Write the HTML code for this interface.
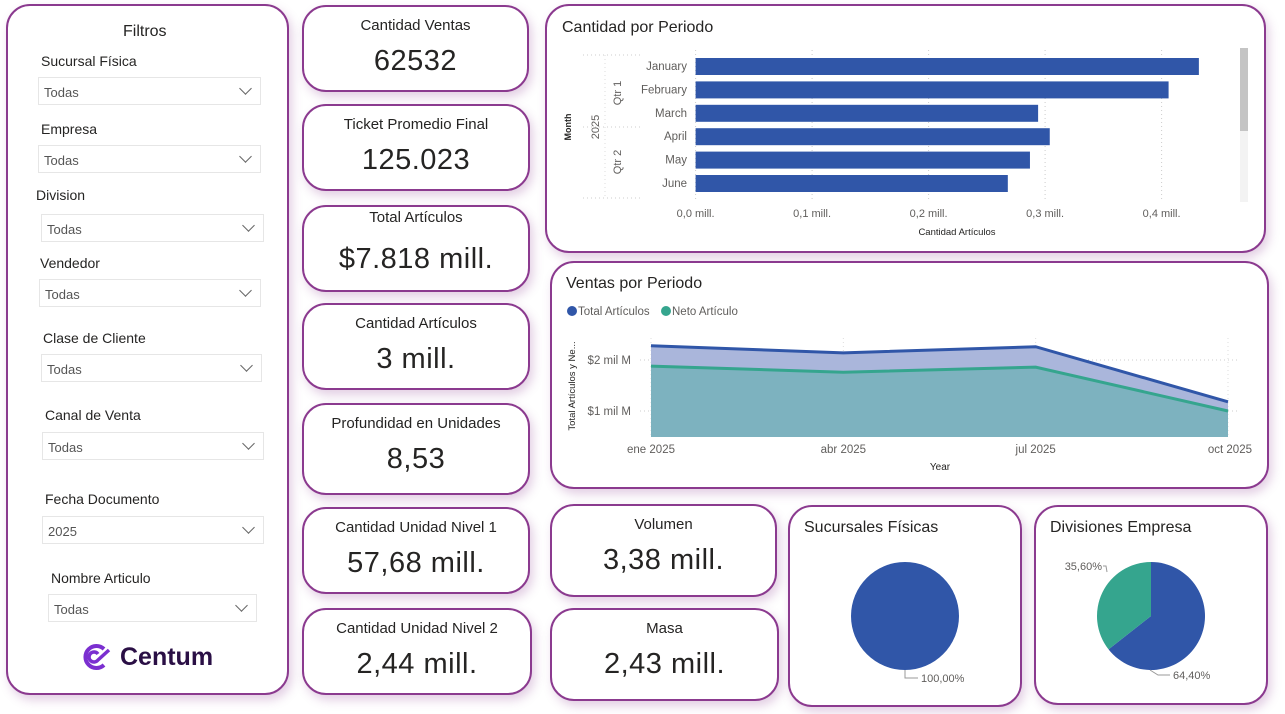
<!DOCTYPE html>
<html><head><meta charset="utf-8"><style>
body{margin:0;width:1285px;height:714px;background:#fff;font-family:"Liberation Sans",sans-serif;color:#252423;position:relative;overflow:hidden}
.card{position:absolute;box-sizing:border-box;border:2.5px solid #8b3a8f;border-radius:24px;background:#fff;box-shadow:3px 5px 10px rgba(139,58,143,0.25)}
.kpi .t{position:absolute;left:0;right:0;top:10px;text-align:center;font-size:15px;color:#252423}
.kpi .v{position:absolute;left:0;right:0;top:38px;text-align:center;font-size:29px;color:#252423;letter-spacing:0.5px}
.lbl{position:absolute;font-size:14px;color:#252423}
.dd{position:absolute;box-sizing:border-box;border:1px solid #e6e6e6;height:28px;font-size:13px;color:#555;padding:7px 0 0 5px}
.dd::after{content:"";position:absolute;right:10px;top:6px;width:8px;height:8px;border-right:1.3px solid #666;border-bottom:1.3px solid #666;transform:rotate(45deg)}
.title{position:absolute;font-size:16px;color:#252423}
</style></head><body>

<div class="card" style="left:6px;top:4px;width:283px;height:691px">
 <div class="title" style="left:115px;top:17px">Filtros</div>
</div>
<div class="lbl" style="left:41px;top:53px">Sucursal Física</div>
<div class="dd" style="left:38px;top:77px;width:223px">Todas</div>
<div class="lbl" style="left:41px;top:121px">Empresa</div>
<div class="dd" style="left:38px;top:145px;width:223px">Todas</div>
<div class="lbl" style="left:36px;top:187px">Division</div>
<div class="dd" style="left:41px;top:214px;width:223px">Todas</div>
<div class="lbl" style="left:40px;top:255px">Vendedor</div>
<div class="dd" style="left:39px;top:279px;width:222px">Todas</div>
<div class="lbl" style="left:43px;top:330px">Clase de Cliente</div>
<div class="dd" style="left:41px;top:354px;width:221px">Todas</div>
<div class="lbl" style="left:45px;top:407px">Canal de Venta</div>
<div class="dd" style="left:42px;top:432px;width:222px">Todas</div>
<div class="lbl" style="left:45px;top:491px">Fecha Documento</div>
<div class="dd" style="left:42px;top:516px;width:222px">2025</div>
<div class="lbl" style="left:51px;top:570px">Nombre Articulo</div>
<div class="dd" style="left:48px;top:594px;width:209px">Todas</div>
<div style="position:absolute;left:80px;top:641px;height:32px;display:flex;align-items:center">
 <svg width="34" height="30" viewBox="0 0 34 30"><path d="M24 7 A11 11 0 1 0 24 23" fill="none" stroke="#7b2fd0" stroke-width="4"/><path d="M18 12 A5 5 0 1 0 18 18 L29 8" fill="none" stroke="#7b2fd0" stroke-width="3.5"/></svg>
 <span style="font-size:25px;font-weight:bold;color:#2a0f45;margin-left:6px">Centum</span>
</div>

<div class="card kpi" style="left:302px;top:5px;width:227px;height:87px"><div class="t">Cantidad Ventas</div><div class="v">62532</div></div>
<div class="card kpi" style="left:302px;top:104px;width:228px;height:87px"><div class="t">Ticket Promedio Final</div><div class="v">125.023</div></div>
<div class="card kpi" style="left:302px;top:205px;width:228px;height:87px"><div class="t" style="top:2px">Total Artículos</div><div class="v" style="top:36px">$7.818 mill.</div></div>
<div class="card kpi" style="left:302px;top:303px;width:228px;height:87px"><div class="t">Cantidad Artículos</div><div class="v">3 mill.</div></div>
<div class="card kpi" style="left:302px;top:403px;width:228px;height:92px"><div class="t">Profundidad en Unidades</div><div class="v">8,53</div></div>
<div class="card kpi" style="left:302px;top:507px;width:228px;height:87px"><div class="t">Cantidad Unidad Nivel 1</div><div class="v">57,68 mill.</div></div>
<div class="card kpi" style="left:302px;top:608px;width:230px;height:87px"><div class="t">Cantidad Unidad Nivel 2</div><div class="v">2,44 mill.</div></div>
<div class="card kpi" style="left:550px;top:504px;width:227px;height:93px"><div class="t">Volumen</div><div class="v">3,38 mill.</div></div>
<div class="card kpi" style="left:550px;top:608px;width:229px;height:93px"><div class="t">Masa</div><div class="v">2,43 mill.</div></div>

<div class="card" style="left:545px;top:4px;width:721px;height:249px">
 <div class="title" style="left:15px;top:13px">Cantidad por Periodo</div>
</div>
<svg id="bar" style="position:absolute;left:0;top:0" width="1285" height="260"></svg>

<div class="card" style="left:550px;top:261px;width:719px;height:228px">
 <div class="title" style="left:14px;top:12px">Ventas por Periodo</div>
</div>
<svg id="area" style="position:absolute;left:0;top:0" width="1285" height="490"></svg>

<div class="card" style="left:788px;top:505px;width:234px;height:202px">
 <div class="title" style="left:14px;top:12px">Sucursales Físicas</div>
</div>
<div class="card" style="left:1034px;top:505px;width:234px;height:200px">
 <div class="title" style="left:14px;top:12px">Divisiones Empresa</div>
</div>
<svg id="pies" style="position:absolute;left:0;top:0" width="1285" height="714"></svg>

<script>
const NS="http://www.w3.org/2000/svg";
function mk(p,tag,a,txt){const e=document.createElementNS(NS,tag);for(const k in a)e.setAttribute(k,a[k]);if(txt!==undefined)e.textContent=txt;p.appendChild(e);return e;}

// ---- bar chart data ----
const months=["January","February","March","April","May","June"];
const barValues=[0.432,0.406,0.294,0.304,0.287,0.268];
const barTicks=[0,0.1,0.2,0.3,0.4];
const barTickLabels=["0,0 mill.","0,1 mill.","0,2 mill.","0,3 mill.","0,4 mill."];

// ---- area chart data ----
const periods=["ene 2025","abr 2025","jul 2025","oct 2025"];
const totalArticulos=[2.28,2.14,2.26,1.18];
const netoArticulo=[1.88,1.76,1.86,1.0];
const areaTicks=[1,2];
const areaTickLabels=["$1 mil M","$2 mil M"];

// ---- pie data ----
const sucursalesValues=[100];
const divisionesValues=[64.4,35.6];

// bar chart
const bs=document.getElementById('bar');
const bx=v=>695.6+v*1165;
const by=i=>66+i*23.4;
barTicks.forEach((t,i)=>{
 const l=mk(bs,'line',{x1:bx(t),x2:bx(t),y1:50,y2:200,stroke:'#ccc','stroke-dasharray':'1,3'});
 
 const tx=mk(bs,'text',{x:bx(t),y:217,'text-anchor':'middle','font-size':11,fill:'#605e5c'},barTickLabels[i]);
 
});
months.forEach((m,i)=>{
 const r=mk(bs,'rect',{x:bx(0),y:by(i)-8,width:bx(barValues[i])-bx(0),height:17,fill:'#3056a8'});
 
 const t=mk(bs,'text',{x:687,y:by(i)+4,'text-anchor':'end','font-size':11.5,fill:'#605e5c'},m);
 
});
[[583,55],[583,127],[583,198]].forEach(p=>mk(bs,'line',{x1:p[0],x2:640,y1:p[1],y2:p[1],stroke:'#ccc','stroke-dasharray':'1,3'}));
mk(bs,'line',{x1:605,x2:605,y1:55,y2:198,stroke:'#ddd','stroke-dasharray':'1,3'});
let g1=mk(bs,'text',{transform:'translate(621,93) rotate(-90)','text-anchor':'middle','font-size':11,fill:'#605e5c'},'Qtr 1');

let g2=mk(bs,'text',{transform:'translate(621,162) rotate(-90)','text-anchor':'middle','font-size':11,fill:'#605e5c'},'Qtr 2');

let g3=mk(bs,'text',{transform:'translate(599,127) rotate(-90)','text-anchor':'middle','font-size':11,fill:'#605e5c'},'2025');

let g4=mk(bs,'text',{transform:'translate(571,127) rotate(-90)','text-anchor':'middle','font-size':9,'font-weight':'bold',fill:'#252423'},'Month');

let g5=mk(bs,'text',{x:957,y:235,'text-anchor':'middle','font-size':9.5,fill:'#252423'},'Cantidad Artículos');

let sb=mk(bs,'rect',{x:1240,y:48,width:8,height:154,fill:'#f3f3f3'});

mk(bs,'rect',{x:1240,y:48,width:8,height:83,fill:'#c4c4c4'});

// area chart
const as=document.getElementById('area');
const ax=i=>651+i*(1228-651)/(periods.length-1);
const ay=v=>462-v*51;
const base=437;
areaTicks.forEach((t,i)=>{
 const l=mk(as,'line',{x1:640,x2:1240,y1:ay(t),y2:ay(t),stroke:'#ccc','stroke-dasharray':'1,3'});
 
 const tx=mk(as,'text',{x:631,y:ay(t)+4,'text-anchor':'end','font-size':11.5,fill:'#605e5c'},areaTickLabels[i]);
 
});
periods.forEach((p,i)=>{
 const l=mk(as,'line',{x1:ax(i),x2:ax(i),y1:338,y2:base,stroke:'#ddd','stroke-dasharray':'1,3'});
 
 const anchor=i===periods.length-1?'end':(i===0?'middle':'middle');
 const tx=mk(as,'text',{x:i===periods.length-1?ax(i)+24:ax(i),y:453,'text-anchor':anchor,'font-size':11.5,fill:'#605e5c'},p);
 
});
const ptsT=totalArticulos.map((v,i)=>ax(i)+','+ay(v)).join(' ');
const ptsN=netoArticulo.map((v,i)=>ax(i)+','+ay(v)).join(' ');
let aT=mk(as,'polygon',{points:ax(0)+','+base+' '+ptsT+' '+ax(periods.length-1)+','+base,fill:'#aab6db'});

let aN=mk(as,'polygon',{points:ax(0)+','+base+' '+ptsN+' '+ax(periods.length-1)+','+base,fill:'#7db2bf'});

let lT=mk(as,'polyline',{points:ptsT,fill:'none',stroke:'#3056a8','stroke-width':3});

let lN=mk(as,'polyline',{points:ptsN,fill:'none',stroke:'#35a58e','stroke-width':3});

let le1=mk(as,'circle',{cx:572,cy:311,r:5,fill:'#3056a8'});

let lt1=mk(as,'text',{x:578,y:315,'font-size':11.5,fill:'#605e5c'},'Total Artículos');

let le2=mk(as,'circle',{cx:666,cy:311,r:5,fill:'#35a58e'});

let lt2=mk(as,'text',{x:672,y:315,'font-size':11.5,fill:'#605e5c'},'Neto Artículo');

let yt=mk(as,'text',{transform:'translate(575,386) rotate(-90)','text-anchor':'middle','font-size':9.5,fill:'#252423'},'Total Artículos y Ne...');

let xt=mk(as,'text',{x:940,y:470,'text-anchor':'middle','font-size':10,fill:'#252423'},'Year');


// pies
const ps=document.getElementById('pies');
const pieColors=['#3056a8','#35a58e'];
function pie(cx,cy,r,vals,prefix){
 const tot=vals.reduce((a,b)=>a+b,0);let a0=0;
 vals.forEach((v,i)=>{
  const a1=a0+v/tot*2*Math.PI;let el;
  if(v/tot>=0.9999){el=mk(ps,'circle',{cx:cx,cy:cy,r:r,fill:pieColors[i]});}
  else{
   const x0=cx+r*Math.sin(a0),y0=cy-r*Math.cos(a0),x1=cx+r*Math.sin(a1),y1=cy-r*Math.cos(a1);
   el=mk(ps,'path',{d:`M${cx},${cy} L${x0},${y0} A${r},${r} 0 ${a1-a0>Math.PI?1:0} 1 ${x1},${y1} Z`,fill:pieColors[i]});
  }
  
  
  a0=a1;
 });
}
pie(905,616,54,sucursalesValues,'sucursales');
pie(1151,616,54,divisionesValues,'divisiones');
mk(ps,'polyline',{points:'905,670 905,678 918,678',fill:'none',stroke:'#999'});
let p1=mk(ps,'text',{x:921,y:682,'font-size':11,fill:'#605e5c'},sucursalesValues[0].toFixed(2).replace('.',',')+'%');

mk(ps,'polyline',{points:'1150,670 1158,675 1170,675',fill:'none',stroke:'#999'});
let p2=mk(ps,'text',{x:1173,y:679,'font-size':11,fill:'#605e5c'},divisionesValues[0].toFixed(2).replace('.',',')+'%');

mk(ps,'polyline',{points:'1107,572 1106,566 1103,566',fill:'none',stroke:'#999'});
let p3=mk(ps,'text',{x:1102,y:570,'text-anchor':'end','font-size':11,fill:'#605e5c'},divisionesValues[1].toFixed(2).replace('.',',')+'%');

</script>
</body></html>
